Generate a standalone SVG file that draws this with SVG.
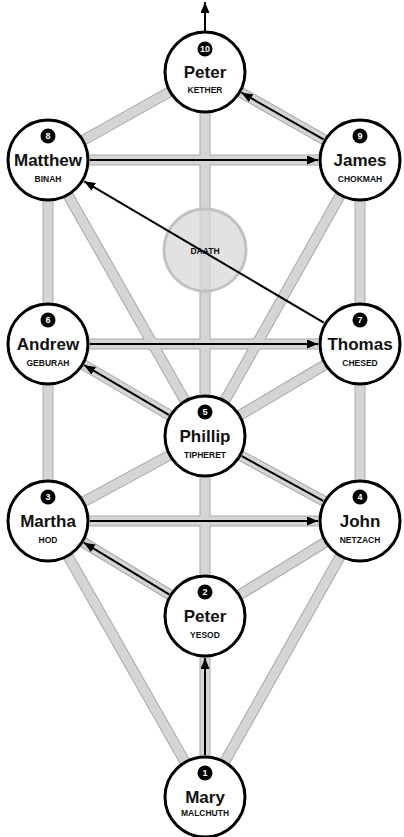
<svg xmlns="http://www.w3.org/2000/svg" xmlns:xlink="http://www.w3.org/1999/xlink" width="404" height="837" viewBox="0 0 404 837">
<style>
.bo{fill:none;stroke:#a8a8a8;stroke-width:11}
.bi{fill:none;stroke:#d5d5d5;stroke-width:9}
.ar{fill:none;stroke:#000;stroke-width:2}
.node circle.c{fill:#fff;stroke:#000;stroke-width:3}
.node circle.b{fill:#000}
.num{font-family:"Liberation Sans",Arial,sans-serif;font-weight:bold;font-size:9px;fill:#fff;text-anchor:middle}
.nm{font-family:"Liberation Sans",Arial,sans-serif;font-weight:bold;font-size:17px;fill:#111;text-anchor:middle}
.sb{font-family:"Liberation Sans",Arial,sans-serif;font-weight:bold;font-size:8.5px;fill:#111;text-anchor:middle}
</style>
<defs>
<marker id="ah" markerUnits="userSpaceOnUse" markerWidth="11" markerHeight="9" refX="11" refY="4.5" orient="auto">
<path d="M0,0 L11,4.5 L0,9 z" fill="#000"/>
</marker>
<path id="bands" d="M205,72 L48,160 M205,72 L360,160 M205,72 L205,436 M48,160 L360,160 M48,160 L48,344 M48,160 L205,436 M360,160 L360,344 M360,160 L205,436 M48,344 L360,344 M48,344 L205,436 M48,344 L48,521 M360,344 L205,436 M360,344 L360,521 M205,436 L48,521 M205,436 L360,521 M205,436 L205,616 M48,521 L360,521 M48,521 L205,616 M48,521 L205,797 M360,521 L205,616 M360,521 L205,797 M205,616 L205,797"/>
</defs>
<g id="connectors">
<use xlink:href="#bands" href="#bands" class="bo"/>
<use xlink:href="#bands" href="#bands" class="bi"/>
<g id="daath">
<circle cx="205" cy="250" r="41" fill="#d8d8d8" fill-opacity="0.75" stroke="#c2c2c2" stroke-width="3"/>
<text x="205" y="254" class="sb">DAATH</text>
</g>
<line class="ar" x1="205" y1="755" x2="205" y2="658" marker-end="url(#ah)"/>
<line class="ar" x1="169.1" y1="594.3" x2="83.9" y2="542.7" marker-end="url(#ah)"/>
<line class="ar" x1="90" y1="521" x2="318" y2="521" marker-end="url(#ah)"/>
<line class="ar" x1="323.2" y1="500.8" x2="241.8" y2="456.2"/>
<line class="ar" x1="168.8" y1="414.8" x2="84.2" y2="365.2" marker-end="url(#ah)"/>
<line class="ar" x1="90" y1="344" x2="318" y2="344" marker-end="url(#ah)"/>
<line class="ar" x1="323.8" y1="322.7" x2="84.2" y2="181.3" marker-end="url(#ah)"/>
<line class="ar" x1="90" y1="160" x2="318" y2="160" marker-end="url(#ah)"/>
<line class="ar" x1="323.5" y1="139.3" x2="241.5" y2="92.7" marker-end="url(#ah)"/>
<line class="ar" x1="205" y1="31" x2="205" y2="2" marker-end="url(#ah)"/>
</g>
<g id="kether" class="node"><circle class="c" cx="205" cy="72" r="40"/><circle class="b" cx="205" cy="49" r="7.5"/><text class="num" x="205" y="52.2">10</text><text class="nm" x="205" y="78">Peter</text><text class="sb" x="205" y="93">KETHER</text></g>
<g id="binah" class="node"><circle class="c" cx="48" cy="160" r="40"/><circle class="b" cx="48" cy="136" r="7.5"/><text class="num" x="48" y="139.2">8</text><text class="nm" x="48" y="166">Matthew</text><text class="sb" x="48" y="182">BINAH</text></g>
<g id="chokmah" class="node"><circle class="c" cx="360" cy="160" r="40"/><circle class="b" cx="360" cy="136" r="7.5"/><text class="num" x="360" y="139.2">9</text><text class="nm" x="360" y="166">James</text><text class="sb" x="360" y="182">CHOKMAH</text></g>
<g id="geburah" class="node"><circle class="c" cx="48" cy="344" r="40"/><circle class="b" cx="48" cy="320" r="7.5"/><text class="num" x="48" y="323.2">6</text><text class="nm" x="48" y="350">Andrew</text><text class="sb" x="48" y="366">GEBURAH</text></g>
<g id="chesed" class="node"><circle class="c" cx="360" cy="344" r="40"/><circle class="b" cx="360" cy="320" r="7.5"/><text class="num" x="360" y="323.2">7</text><text class="nm" x="360" y="350">Thomas</text><text class="sb" x="360" y="366">CHESED</text></g>
<g id="tiphereth" class="node"><circle class="c" cx="205" cy="436" r="40"/><circle class="b" cx="205" cy="412" r="7.5"/><text class="num" x="205" y="415.2">5</text><text class="nm" x="205" y="442">Phillip</text><text class="sb" x="205" y="458">TIPHERET</text></g>
<g id="hod" class="node"><circle class="c" cx="48" cy="521" r="40"/><circle class="b" cx="48" cy="497" r="7.5"/><text class="num" x="48" y="500.2">3</text><text class="nm" x="48" y="527">Martha</text><text class="sb" x="48" y="543">HOD</text></g>
<g id="netzach" class="node"><circle class="c" cx="360" cy="521" r="40"/><circle class="b" cx="360" cy="497" r="7.5"/><text class="num" x="360" y="500.2">4</text><text class="nm" x="360" y="527">John</text><text class="sb" x="360" y="543">NETZACH</text></g>
<g id="yesod" class="node"><circle class="c" cx="205" cy="616" r="40"/><circle class="b" cx="205" cy="592" r="7.5"/><text class="num" x="205" y="595.2">2</text><text class="nm" x="205" y="622">Peter</text><text class="sb" x="205" y="638">YESOD</text></g>
<g id="malchuth" class="node"><circle class="c" cx="205" cy="797" r="40"/><circle class="b" cx="205" cy="773" r="7.5"/><text class="num" x="205" y="776.2">1</text><text class="nm" x="205" y="803">Mary</text><text class="sb" x="205" y="816">MALCHUTH</text></g>
</svg>
